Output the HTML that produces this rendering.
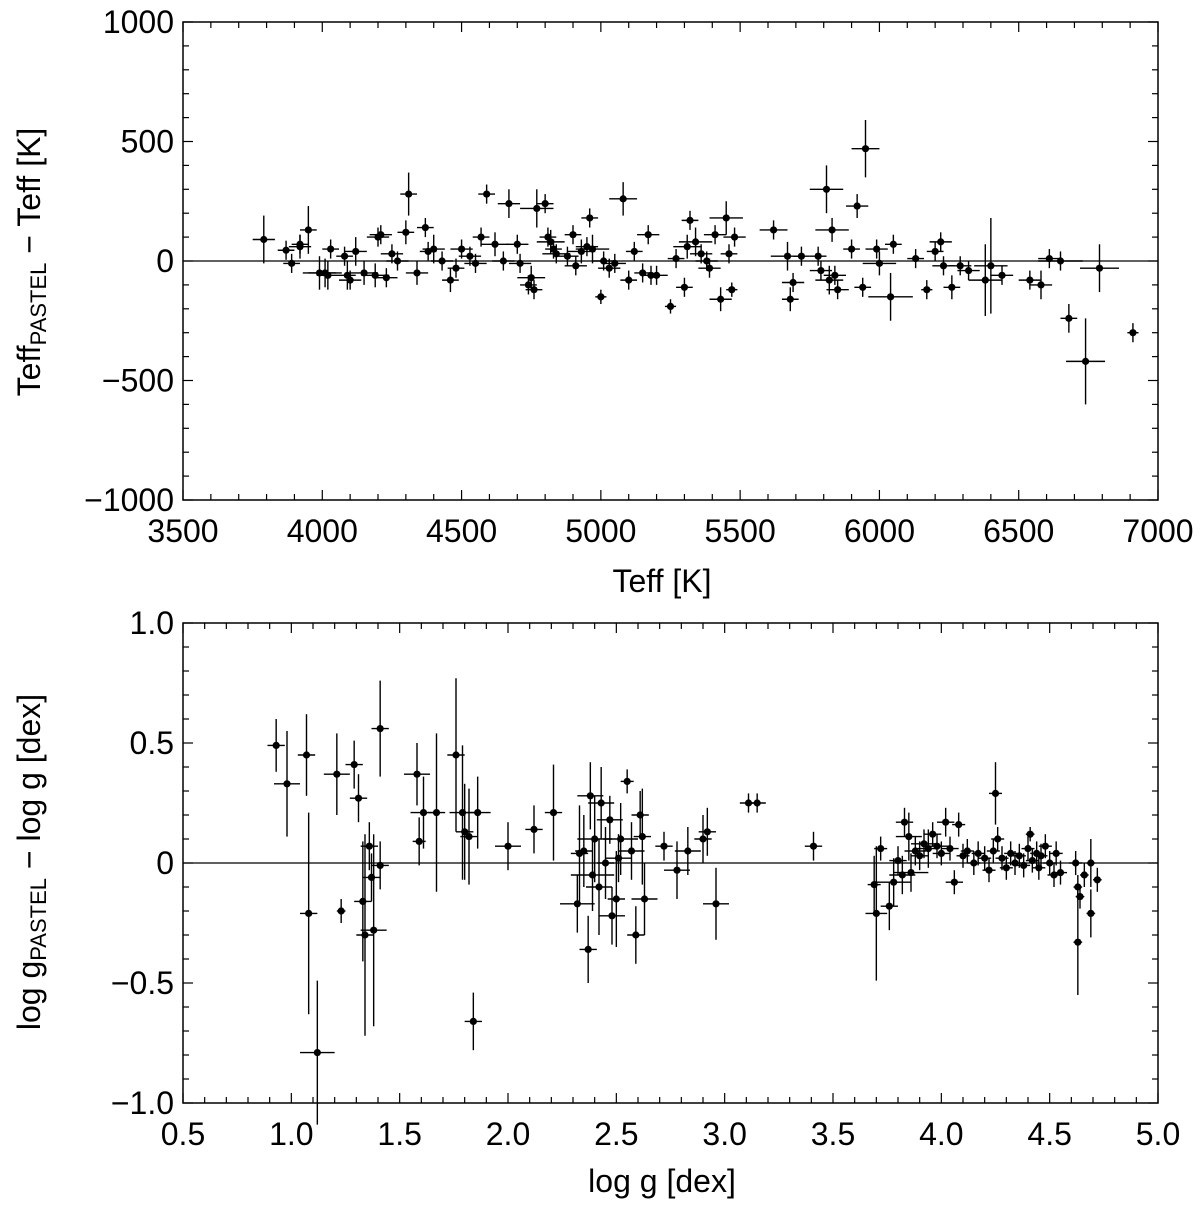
<!DOCTYPE html>
<html><head><meta charset="utf-8"><style>
body{margin:0;background:#fff}
svg text{font-family:"Liberation Sans","DejaVu Sans",sans-serif;fill:#000}
</style></head><body>
<svg id="c" width="1200" height="1207" viewBox="0 0 1200 1207" xmlns="http://www.w3.org/2000/svg">
<g id="top"></g>
<g id="bot"></g>
</svg>
<script>
// Top panel data: [Teff, dTeff, xerr, yerr]
const teffPts=[[3790,90,40,100],[3870,45,30,40],[3890,-10,30,40],[3920,60,40,50],[3920,70,30,40],[3950,130,30,100],[3990,-50,60,70],[4010,-50,60,60],[4020,-60,40,60],[4030,50,30,40],[4080,20,30,40],[4090,-60,30,60],[4100,-80,40,40],[4120,40,40,60],[4150,-50,50,50],[4190,-60,50,50],[4200,100,40,40],[4210,110,40,40],[4230,-70,40,40],[4250,30,40,40],[4270,0,40,40],[4300,120,30,50],[4310,280,30,90],[4340,-50,40,50],[4370,140,30,40],[4380,40,30,40],[4400,50,40,60],[4430,0,40,40],[4460,-80,30,50],[4480,-30,30,40],[4500,50,40,40],[4530,20,40,40],[4550,-10,40,40],[4570,100,30,40],[4590,280,30,40],[4620,70,50,50],[4650,0,40,40],[4670,240,40,60],[4700,70,40,40],[4710,-10,40,40],[4740,-100,30,40],[4750,-70,50,50],[4760,-120,30,40],[4770,220,60,80],[4800,240,30,40],[4810,100,30,40],[4820,80,50,50],[4830,50,30,40],[4840,30,50,40],[4880,20,40,40],[4900,110,30,40],[4910,-20,40,40],[4930,40,50,50],[4950,60,40,40],[4960,180,30,40],[4970,50,60,60],[5000,-150,20,30],[5010,0,40,40],[5030,-30,40,40],[5050,-10,40,40],[5080,260,50,70],[5100,-80,30,40],[5120,40,30,40],[5150,-50,30,40],[5170,110,40,40],[5180,-60,30,40],[5200,-60,40,40],[5250,-190,20,30],[5270,10,30,40],[5300,-110,30,40],[5310,60,50,50],[5320,170,30,40],[5340,80,60,60],[5360,30,40,40],[5380,0,40,40],[5390,-30,40,40],[5410,110,40,40],[5430,-160,40,50],[5450,180,60,70],[5460,30,30,40],[5470,-120,20,30],[5480,100,40,40],[5620,130,50,40],[5670,20,60,60],[5680,-160,30,50],[5690,-90,40,40],[5720,20,30,40],[5780,20,30,40],[5790,-40,40,40],[5810,300,60,100],[5820,-80,50,60],[5830,130,60,50],[5840,-60,40,40],[5850,-120,40,40],[5900,50,30,40],[5920,230,40,50],[5940,-110,30,40],[5950,470,50,120],[5990,50,40,40],[6000,-10,60,50],[6040,-150,80,100],[6050,70,30,40],[6130,10,30,40],[6170,-120,20,40],[6200,40,30,40],[6220,80,40,40],[6230,-20,40,40],[6260,-110,30,50],[6290,-20,40,40],[6320,-40,40,40],[6380,-80,60,150],[6400,-20,60,200],[6440,-60,40,40],[6540,-80,40,40],[6580,-100,40,60],[6610,10,40,40],[6650,0,80,40],[6680,-240,30,60],[6740,-420,70,180],[6790,-30,70,100],[6910,-300,20,40]];
const teffXTicks=[3500,4000,4500,5000,5500,6000,6500,7000];
const teffYTicks=[-1000,-500,0,500,1000];
// Bottom panel data: [logg, dlogg, xerr, yerr]
const loggPts=[[0.93,0.49,0.04,0.11],[0.98,0.33,0.06,0.22],[1.07,0.45,0.04,0.17],[1.08,-0.21,0.04,0.42],[1.12,-0.79,0.08,0.3],[1.21,0.37,0.06,0.17],[1.23,-0.2,0.02,0.05],[1.29,0.41,0.04,0.1],[1.31,0.27,0.04,0.1],[1.33,-0.16,0.04,0.25],[1.34,-0.3,0.04,0.42],[1.36,0.07,0.04,0.1],[1.37,-0.06,0.04,0.1],[1.38,-0.28,0.06,0.4],[1.41,0.56,0.04,0.2],[1.41,-0.01,0.04,0.1],[1.58,0.37,0.06,0.13],[1.59,0.09,0.03,0.1],[1.61,0.21,0.06,0.15],[1.67,0.21,0.04,0.33],[1.76,0.45,0.04,0.32],[1.79,0.21,0.06,0.28],[1.8,0.13,0.04,0.2],[1.82,0.11,0.04,0.2],[1.84,-0.66,0.04,0.12],[1.86,0.21,0.06,0.15],[2.0,0.07,0.06,0.1],[2.12,0.14,0.04,0.1],[2.21,0.21,0.04,0.2],[2.32,-0.17,0.08,0.12],[2.33,0.04,0.04,0.2],[2.35,0.05,0.04,0.15],[2.37,-0.36,0.04,0.14],[2.38,0.28,0.06,0.14],[2.39,-0.05,0.1,0.15],[2.4,0.1,0.08,0.18],[2.42,-0.1,0.06,0.2],[2.43,0.25,0.06,0.15],[2.45,0.0,0.04,0.15],[2.47,0.18,0.06,0.1],[2.48,-0.22,0.06,0.12],[2.5,-0.15,0.04,0.2],[2.51,0.02,0.06,0.1],[2.52,0.1,0.08,0.15],[2.55,0.34,0.03,0.05],[2.57,0.05,0.06,0.12],[2.59,-0.3,0.04,0.12],[2.61,0.2,0.04,0.1],[2.62,0.11,0.04,0.2],[2.63,-0.15,0.06,0.15],[2.72,0.07,0.04,0.06],[2.78,-0.03,0.06,0.12],[2.83,0.05,0.06,0.1],[2.9,0.1,0.04,0.1],[2.92,0.13,0.04,0.1],[2.96,-0.17,0.06,0.15],[3.11,0.25,0.04,0.04],[3.15,0.25,0.04,0.04],[3.41,0.07,0.04,0.06],[3.69,-0.09,0.03,0.12],[3.7,-0.21,0.05,0.28],[3.72,0.06,0.03,0.05],[3.76,-0.18,0.04,0.1],[3.78,-0.08,0.08,0.1],[3.8,0.01,0.04,0.06],[3.82,-0.05,0.06,0.08],[3.83,0.17,0.04,0.06],[3.85,0.11,0.06,0.1],[3.86,-0.04,0.08,0.08],[3.88,0.05,0.05,0.06],[3.9,0.03,0.04,0.06],[3.92,0.08,0.06,0.06],[3.94,0.06,0.05,0.08],[3.96,0.12,0.04,0.05],[3.98,0.07,0.05,0.05],[4.0,0.04,0.04,0.05],[4.02,0.17,0.04,0.06],[4.04,0.06,0.04,0.05],[4.06,-0.08,0.04,0.05],[4.08,0.16,0.03,0.05],[4.1,0.03,0.03,0.05],[4.12,0.05,0.03,0.05],[4.15,0.0,0.03,0.05],[4.17,0.04,0.03,0.05],[4.2,0.02,0.03,0.05],[4.22,-0.03,0.03,0.05],[4.24,0.05,0.03,0.05],[4.25,0.29,0.03,0.13],[4.26,0.1,0.03,0.05],[4.28,0.02,0.03,0.05],[4.3,-0.02,0.03,0.05],[4.32,0.04,0.03,0.05],[4.34,0.0,0.03,0.05],[4.36,0.03,0.03,0.05],[4.38,-0.01,0.03,0.05],[4.4,0.06,0.03,0.05],[4.41,0.12,0.02,0.03],[4.42,0.01,0.03,0.05],[4.44,0.04,0.03,0.05],[4.45,-0.02,0.03,0.05],[4.46,0.03,0.03,0.05],[4.48,0.07,0.03,0.05],[4.5,0.0,0.03,0.05],[4.52,-0.05,0.03,0.05],[4.53,0.04,0.03,0.05],[4.55,-0.04,0.03,0.05],[4.62,0.0,0.03,0.05],[4.63,-0.1,0.02,0.05],[4.63,-0.33,0.02,0.22],[4.64,-0.14,0.02,0.05],[4.66,-0.05,0.02,0.05],[4.69,-0.21,0.02,0.1],[4.69,0.0,0.02,0.1],[4.72,-0.07,0.02,0.05]];
const loggXTicks=[0.5,1.0,1.5,2.0,2.5,3.0,3.5,4.0,4.5,5.0];
const loggYTicks=[-1.0,-0.5,0,0.5,1.0];

const NS="http://www.w3.org/2000/svg";
function mk(parent,tag,attrs){const e=document.createElementNS(NS,tag);for(const k in attrs)e.setAttribute(k,attrs[k]);parent.appendChild(e);return e;}

function panel(g,opt){
  const {x0,x1,y0,y1,xmin,xmax,ymin,ymax}=opt;
  const sx=v=>x0+(v-xmin)/(xmax-xmin)*(x1-x0);
  const sy=v=>y1-(v-ymin)/(ymax-ymin)*(y1-y0);
  const frame=mk(g,'rect',{x:x0,y:y0,width:x1-x0,height:y1-y0,fill:'none',stroke:'#000','stroke-width':1.5});
  
  
  const zl=mk(g,'line',{x1:x0,x2:x1,y1:sy(0),y2:sy(0),stroke:'#000','stroke-width':1.3});
  
  
  for(let v=xmin;v<=xmax+1e-9;v+=opt.xminor){const X=sx(v);const maj=Math.abs(((v-xmin)/opt.xmajor)-Math.round((v-xmin)/opt.xmajor))<1e-6;const L=maj?10:6;
    mk(g,'line',{x1:X,x2:X,y1:y1,y2:y1-L,stroke:'#000','stroke-width':1.2});mk(g,'line',{x1:X,x2:X,y1:y0,y2:y0+L,stroke:'#000','stroke-width':1.2});}
  for(let v=ymin;v<=ymax+1e-9;v+=opt.yminor){const Y=sy(v);const maj=Math.abs(((v-ymin)/opt.ymajor)-Math.round((v-ymin)/opt.ymajor))<1e-6;const L=maj?10:6;
    mk(g,'line',{x1:x0,x2:x0+L,y1:Y,y2:Y,stroke:'#000','stroke-width':1.2});mk(g,'line',{x1:x1,x2:x1-L,y1:Y,y2:Y,stroke:'#000','stroke-width':1.2});}
  opt.xt.forEach(v=>{const t=mk(g,'text',{x:sx(v),y:y1+42,'text-anchor':'middle','font-size':32});t.textContent=opt.fmtx(v);
    
    });
  opt.yt.forEach(v=>{const t=mk(g,'text',{x:x0-9,y:sy(v)+11,'text-anchor':'end','font-size':32});t.textContent=opt.fmty(v);
    
    });
  opt.pts.forEach(p=>{
    const pg=mk(g,'g',{});
    
    
    const X=sx(p[0]),Y=sy(p[1]);
    mk(pg,'line',{x1:sx(p[0]-p[2]),x2:sx(p[0]+p[2]),y1:Y,y2:Y,stroke:'#000','stroke-width':1.4});
    mk(pg,'line',{x1:X,x2:X,y1:sy(p[1]-p[3]),y2:sy(p[1]+p[3]),stroke:'#000','stroke-width':1.4});
    mk(pg,'circle',{cx:X,cy:Y,r:3.6,fill:'#000'});
  });
}
const minus=s=>s.replace('-','\u2212');
panel(document.getElementById('top'),{x0:183,x1:1158,y0:22,y1:500,xmin:3500,xmax:7000,ymin:-1000,ymax:1000,xminor:100,xmajor:500,yminor:100,ymajor:500,xt:teffXTicks,yt:teffYTicks,fmtx:v=>String(v),fmty:v=>minus(String(v)),pts:teffPts});
panel(document.getElementById('bot'),{x0:183,x1:1158,y0:623,y1:1103,xmin:0.5,xmax:5.0,ymin:-1,ymax:1,xminor:0.1,xmajor:0.5,yminor:0.1,ymajor:0.5,xt:loggXTicks,yt:loggYTicks,fmtx:v=>v.toFixed(1),fmty:v=>v===0?'0':minus(v.toFixed(1)),pts:loggPts});

const s=document.getElementById('c');
s.insertAdjacentHTML('beforeend',
'<text x="662" y="592" text-anchor="middle" font-size="32">Teff  [K]</text>'+
'<text transform="translate(40,262) rotate(-90)" text-anchor="middle" font-size="32">Teff<tspan font-size="22" dy="6">PASTEL</tspan><tspan dy="-6"> − Teff  [K]</tspan></text>'+
'<text x="662" y="1192" text-anchor="middle" font-size="32">log g  [dex]</text>'+
'<text transform="translate(40,862) rotate(-90)" text-anchor="middle" font-size="32">log g<tspan font-size="22" dy="6">PASTEL</tspan><tspan dy="-6"> − log g  [dex]</tspan></text>');
</script>
</body></html>
